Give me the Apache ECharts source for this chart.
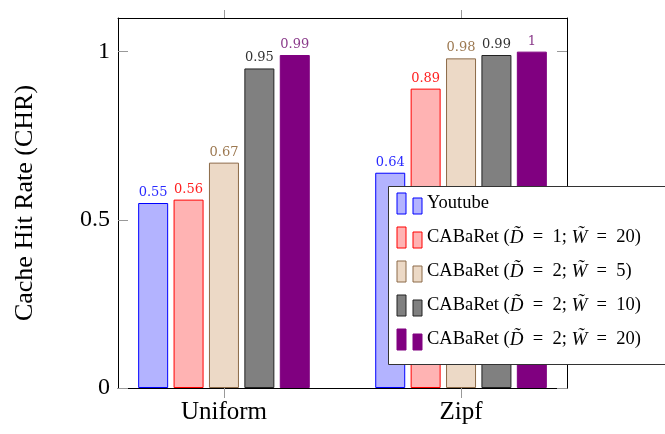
<!DOCTYPE html>
<html>
<head>
<meta charset="utf-8">
<script src="https://cdn.jsdelivr.net/npm/echarts@6/dist/echarts.min.js"></script>
<style>
  html, body { margin: 0; padding: 0; background: #fff; }
  #chart { width: 665px; height: 434px; }
</style>
</head>
<body>
<div id="chart"></div>
<script>
// Workload categories on the x axis
const categories = ['Uniform', 'Zipf'];

// Cache hit rate per scheme, one value per category
const youtube   = [0.55, 0.64];
const cabD1W20  = [0.56, 0.89];
const cabD2W5   = [0.67, 0.98];
const cabD2W10  = [0.95, 0.99];
const cabD2W20  = [0.99, 1];

const seriesNames = [
  'Youtube',
  'CABaRet (D\u0303 = 1; W\u0303 = 20)',
  'CABaRet (D\u0303 = 2; W\u0303 = 5)',
  'CABaRet (D\u0303 = 2; W\u0303 = 10)',
  'CABaRet (D\u0303 = 2; W\u0303 = 20)'
];
const seriesValues = [youtube, cabD1W20, cabD2W5, cabD2W10, cabD2W20];

// y tick labels
const yTicks = [0, 0.5, 1];

const styles = [
  { fill: '#b3b3ff', border: '#0000ff', label: '#2a2aff' },
  { fill: '#ffb3b3', border: '#ff0000', label: '#ff2020' },
  { fill: '#ecd9c6', border: '#8c6a48', label: '#9c7850' },
  { fill: '#808080', border: '#222222', label: '#333333' },
  { fill: '#800080', border: '#800080', label: '#8a3a8a' }
];

const serif = 'Liberation Serif';
const tickStyle = { color: '#999999', width: 1 };
const frameLine = { show: true, onZero: false, lineStyle: { color: '#000', width: 1 } };

const series = seriesValues.map((vals, i) => ({
  name: seriesNames[i],
  type: 'bar',
  xAxisIndex: 0,
  yAxisIndex: 0,
  barWidth: 30,
  barGap: '18%',
  data: vals.map((v, k) => [k, v]),
  itemStyle: { color: styles[i].fill, borderColor: styles[i].border, borderWidth: 1 },
  label: {
    show: true,
    position: 'top',
    distance: 4,
    fontFamily: 'DejaVu Serif',
    fontSize: 13,
    color: styles[i].label,
    formatter: p => String(p.value[1])
  }
}));

// legend entries: italic math symbols, wider spacing around the relation sign
function legendLabel(name) {
  return name
    .replace(/([DW]\u0303)/g, '{it|$1}')
    .replace(/ = /g, '{eq|\u2002=\u2002}');
}

const chart = echarts.init(document.getElementById('chart'), null, { renderer: 'canvas' });
chart.setOption({
  animation: false,
  backgroundColor: '#ffffff',
  grid: { left: 118, right: 98, top: 18, bottom: 46, containLabel: false, outerBoundsMode: 'none' },
  xAxis: [
    {
      type: 'value', position: 'bottom', min: -0.447, max: 1.447,
      splitLine: { show: false },
      axisLine: frameLine,
      axisTick: { show: true, inside: false, length: 10, lineStyle: tickStyle, customValues: [0, 1] },
      axisLabel: {
        show: true, margin: 12, customValues: [0, 1],
        fontFamily: serif, fontSize: 25, color: '#000',
        formatter: v => categories[Math.round(v)]
      }
    },
    {
      type: 'value', position: 'top', min: -0.447, max: 1.447,
      splitLine: { show: false },
      axisLine: frameLine,
      axisTick: { show: true, inside: false, length: 8, lineStyle: tickStyle, customValues: [0, 1] },
      axisLabel: { show: false }
    }
  ],
  yAxis: [
    {
      type: 'value', position: 'left', min: 0, max: 1.1,
      name: 'Cache Hit Rate (CHR)',
      nameLocation: 'middle', nameGap: 80, nameRotate: 90,
      nameTextStyle: { fontFamily: serif, fontSize: 26, color: '#000' },
      splitLine: { show: false },
      axisLine: frameLine,
      axisTick: { show: true, inside: true, length: 10, lineStyle: tickStyle, customValues: yTicks },
      axisLabel: {
        show: true, margin: 8, customValues: yTicks,
        fontFamily: serif, fontSize: 24, color: '#000',
        formatter: v => String(v)
      }
    },
    {
      type: 'value', position: 'right', min: 0, max: 1.1,
      splitLine: { show: false },
      axisLine: frameLine,
      axisTick: { show: true, inside: true, length: 10, lineStyle: tickStyle, customValues: yTicks },
      axisLabel: { show: false }
    }
  ],
  legend: {
    orient: 'vertical',
    left: 388.5,
    top: 186.5,
    padding: [6, 60, 14, 8],
    itemGap: 12,
    itemWidth: 25,
    itemHeight: 21,
    icon: 'path://M0,0h9v21h-9z M16,5h9v16h-9z',
    itemStyle: { borderWidth: 1 },
    backgroundColor: '#ffffff',
    borderColor: '#333333',
    borderWidth: 1,
    data: seriesNames,
    textStyle: {
      fontFamily: serif, fontSize: 18.5, color: '#000',
      rich: {
        it: { fontFamily: serif, fontStyle: 'italic', fontSize: 19, color: '#000' },
        eq: { fontFamily: serif, fontSize: 18.5, color: '#000' }
      }
    },
    formatter: legendLabel
  },
  series: series
});
</script>
</body>
</html>
